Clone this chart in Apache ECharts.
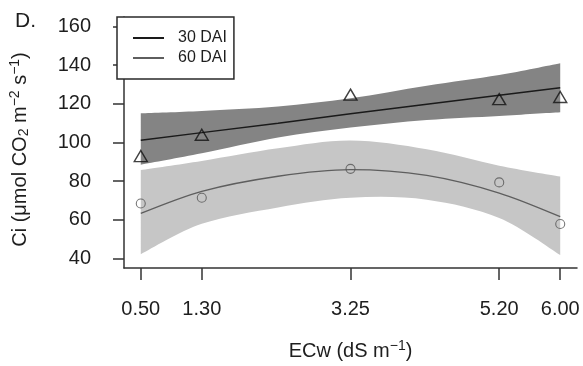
<!DOCTYPE html>
<html>
<head>
<meta charset="utf-8">
<script src="https://cdn.jsdelivr.net/npm/echarts@6/dist/echarts.min.js"></script>
<style>
  html, body { margin: 0; padding: 0; background: #fff; }
  #chart { width: 583px; height: 366px; }
</style>
</head>
<body>
<div id="chart"></div>
<script>
// ECw levels (dS m-1) and their axis labels
const ecLevels = [0.5, 1.3, 3.25, 5.2, 6.0];
const ecLabels = ['0.50', '1.30', '3.25', '5.20', '6.00'];
const yTicks = [40, 60, 80, 100, 120, 140, 160];

// Observed Ci means
const ci30 = [93.0, 104.0, 124.7, 122.4, 123.5];
const ci60 = [68.5, 71.5, 86.4, 79.4, 57.9];

// Fitted curves and their confidence bands
const fitX = [0.5, 1.3, 2.3, 3.25, 4.25, 5.2, 6.0];
const fit30 = [101.2, 105.1, 110.0, 114.8, 119.7, 124.4, 128.3];
const fit30Upper = [115.1, 116.3, 118.6, 122.8, 129.3, 134.8, 140.9];
const fit30Lower = [88.5, 94.4, 102.6, 107.7, 111.6, 113.7, 115.6];
const fit60 = [63.4, 74.8, 82.6, 86.0, 83.0, 73.9, 61.7];
const fit60Upper = [85.8, 90.5, 97.0, 101.0, 96.5, 88.0, 82.4];
const fit60Lower = [42.3, 58.0, 66.5, 71.5, 70.5, 61.0, 41.9];

const FONT = '"Liberation Sans", Arial, Helvetica, sans-serif';
const INK = '#1e1e1e';

const pairs = (xs, ys) => xs.map((x, i) => [x, ys[i]]);

// Smooth (Catmull-Rom) path segments through pixel points, without the initial move
function smoothSegs(p) {
  let d = '';
  for (let i = 0; i < p.length - 1; i++) {
    const p0 = p[i - 1] || p[i], p1 = p[i], p2 = p[i + 1], p3 = p[i + 2] || p[i + 1];
    const c1 = [p1[0] + (p2[0] - p0[0]) / 6, p1[1] + (p2[1] - p0[1]) / 6];
    const c2 = [p2[0] - (p3[0] - p1[0]) / 6, p2[1] - (p3[1] - p1[1]) / 6];
    d += ' C' + c1[0] + ',' + c1[1] + ' ' + c2[0] + ',' + c2[1] + ' ' + p2[0] + ',' + p2[1];
  }
  return d;
}

// Confidence band drawn as one filled shape between its lower and upper edges
function band(name, lower, upper, color) {
  return {
    name: name, type: 'custom', silent: true, z: 1,
    data: [0],
    renderItem: (params, api) => {
      const up = fitX.map((x, i) => api.coord([x, upper[i]]));
      const lo = fitX.map((x, i) => api.coord([x, lower[i]])).reverse();
      const d = 'M' + up[0][0] + ',' + up[0][1] + smoothSegs(up) +
        ' L' + lo[0][0] + ',' + lo[0][1] + smoothSegs(lo) + ' Z';
      return { type: 'path', shape: { pathData: d }, style: { fill: color, stroke: null } };
    }
  };
}

const chart = echarts.init(document.getElementById('chart'), null, { renderer: 'canvas' });

chart.setOption({
  animation: false,
  backgroundColor: '#fff',
  textStyle: { fontFamily: FONT, color: INK },
  grid: { left: 118, right: 6, top: 17, bottom: 94 },
  graphic: [{
    type: 'text', left: 15, top: 11,
    style: { text: 'D.', fontSize: 21, fontFamily: FONT, fill: INK }
  }],
  legend: {
    data: ['30 DAI', '60 DAI'],
    orient: 'vertical',
    left: 117, top: 17,
    padding: [12, 7, 12, 16],
    itemGap: 2,
    itemWidth: 31, itemHeight: 2,
    icon: 'rect',
    borderColor: '#2a2a2a', borderWidth: 1.5, borderRadius: 0,
    backgroundColor: '#fff',
    textStyle: { fontSize: 16, lineHeight: 18, color: INK, fontFamily: FONT, padding: [0, 0, 0, 9] }
  },
  xAxis: {
    type: 'value', min: 0.28, max: 6.22,
    name: 'ECw (dS m{sup|\u22121})',
    nameLocation: 'middle', nameGap: 71,
    nameTextStyle: {
      fontSize: 20, color: INK, fontFamily: FONT,
      rich: { sup: { fontSize: 14, fontFamily: FONT, color: INK, padding: [0, 0, 10, 0] } }
    },
    splitLine: { show: false },
    axisLine: { show: true, onZero: false, lineStyle: { color: '#333', width: 1.5 } },
    axisTick: { show: true, length: 12, customValues: ecLevels, lineStyle: { color: '#333', width: 1.5 } },
    axisLabel: {
      customValues: ecLevels, margin: 31, fontSize: 20, color: INK, fontFamily: FONT,
      formatter: v => { const i = ecLevels.findIndex(l => Math.abs(l - v) < 1e-6); return i >= 0 ? ecLabels[i] : ''; }
    }
  },
  yAxis: {
    type: 'value', min: 35.2, max: 164.8,
    name: 'Ci (\u03bcmol CO{sub|2} m{sup|\u22122} s{sup|\u22121})',
    nameLocation: 'middle', nameGap: 92,
    nameTextStyle: {
      fontSize: 20, color: INK, fontFamily: FONT, padding: [0, 14, 0, 0],
      rich: {
        sub: { fontSize: 14, fontFamily: FONT, color: INK, padding: [9, 0, 0, 0] },
        sup: { fontSize: 14, fontFamily: FONT, color: INK, padding: [0, 0, 10, 0] }
      }
    },
    splitLine: { show: false },
    axisLine: { show: true, onZero: false, lineStyle: { color: '#333', width: 1.5 } },
    axisTick: { show: true, length: 11, customValues: yTicks, lineStyle: { color: '#333', width: 1.5 } },
    axisLabel: { customValues: yTicks, margin: 33, fontSize: 20, color: INK, fontFamily: FONT }
  },
  series: [
    band('60 DAI band', fit60Lower, fit60Upper, '#c6c6c6'),
    band('30 DAI band', fit30Lower, fit30Upper, '#848484'),
    {
      name: '30 DAI', type: 'line', data: pairs(fitX, fit30),
      showSymbol: false, symbol: 'none', color: '#1a1a1a',
      lineStyle: { color: '#1a1a1a', width: 1.5 }, itemStyle: { color: '#1a1a1a' }, z: 3
    },
    {
      name: '60 DAI', type: 'line', data: pairs(fitX, fit60), smooth: 0.3,
      showSymbol: false, symbol: 'none', color: '#5e5e5e',
      lineStyle: { color: '#5e5e5e', width: 1.4 }, itemStyle: { color: '#5e5e5e' }, z: 3
    },
    {
      name: '30 DAI points', type: 'scatter', data: pairs(ecLevels, ci30),
      symbol: 'triangle', symbolSize: [13, 11],
      itemStyle: { color: 'rgba(0,0,0,0)', borderColor: '#111', borderWidth: 1.4 }, z: 4
    },
    {
      name: '60 DAI points', type: 'scatter', data: pairs(ecLevels, ci60),
      symbol: 'circle', symbolSize: 9,
      itemStyle: { color: 'rgba(0,0,0,0)', borderColor: '#555', borderWidth: 1.1 }, z: 4
    }
  ]
});
</script>
</body>
</html>
